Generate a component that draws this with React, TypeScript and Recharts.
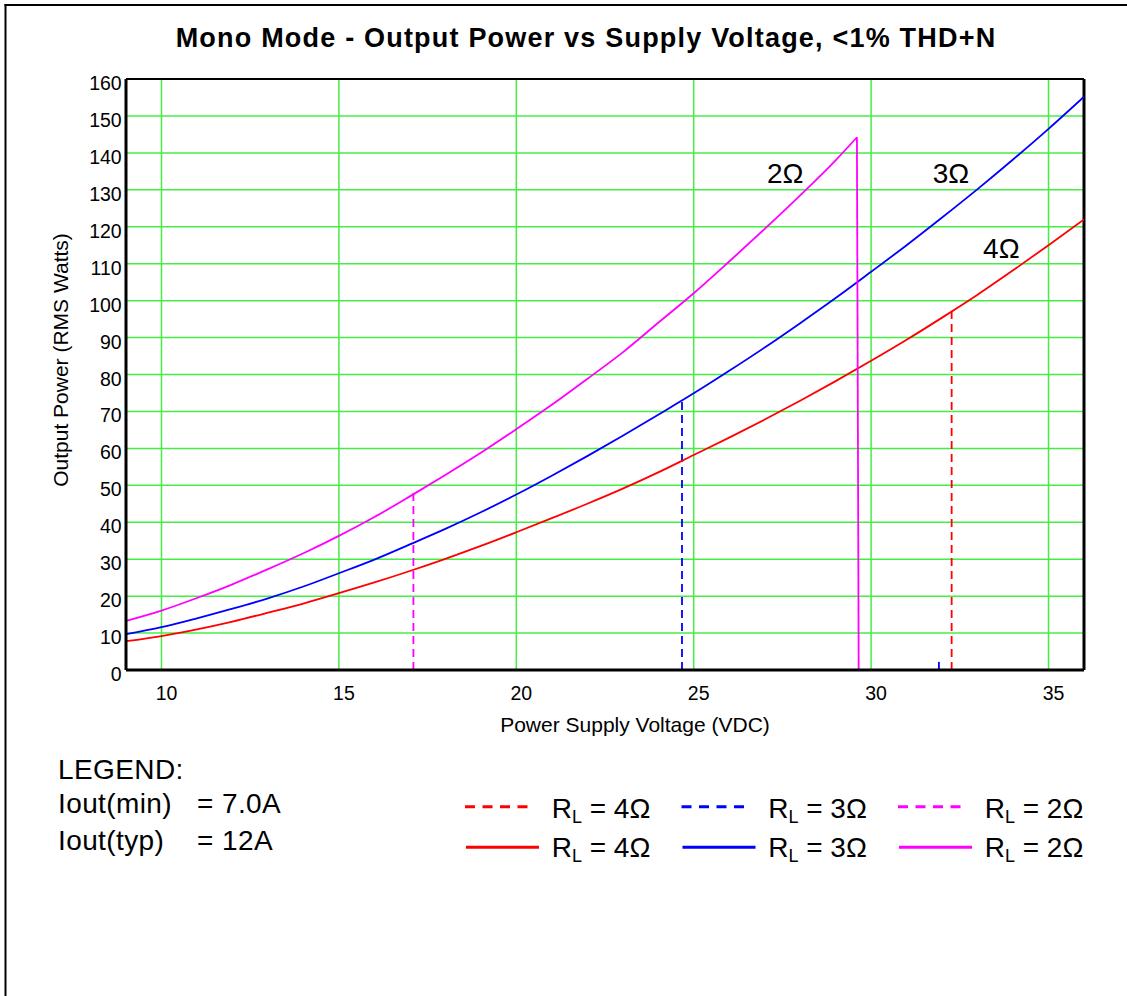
import React from 'react';
import { LineChart, Line, XAxis, YAxis, CartesianGrid, ReferenceLine, ReferenceDot } from 'recharts';

// supply voltage (VDC)
const voltage = [9, 10, 11, 12, 13, 14, 15, 16, 17, 18, 19, 20, 21, 22, 23, 24, 25, 26, 27, 28, 29, 30, 31, 32, 33, 34, 35, 36];
// output power (RMS W) per load
const power4Ohm = [7.8, 9.2, 11.0, 13.1, 15.5, 18.0, 20.8, 23.7, 26.8, 30.1, 33.6, 37.3, 41.1, 45.0, 49.1, 53.5, 58.2, 62.9, 67.8, 72.9, 78.2, 83.7, 89.4, 95.4, 101.6, 108.2, 115.0, 122.0];
const power3Ohm = [9.7, 11.6, 14.0, 16.6, 19.4, 22.6, 26.2, 29.9, 34.0, 38.2, 42.7, 47.5, 52.6, 57.9, 63.4, 69.1, 74.9, 81.0, 87.3, 93.9, 100.7, 107.8, 115.0, 122.5, 130.2, 138.2, 146.5, 155.2];
const voltage2Ohm = [9, 10, 11, 12, 13, 14, 15, 16, 17, 18, 19, 20, 21, 22, 23, 24, 25, 26, 27, 28, 29, 29.6];
const power2Ohm = [13.3, 16.1, 19.5, 23.2, 27.3, 31.6, 36.3, 41.4, 47.0, 52.8, 58.8, 65.2, 71.8, 78.8, 86.0, 94.0, 102.0, 110.6, 119.4, 128.5, 138.0, 144.2];
// 2 ohm curve falls off at the current limit
const dropVoltage = [29.6, 29.65];
const dropPower = [144.2, 0];

// Iout(min) limits, drawn dashed: 4, 3, 2 ohm
const loads = ['4Ω', '3Ω', '2Ω'];
const loadColors = ['#ff0000', '#0000ff', '#ff00ff'];
const limitVoltage = [32.27, 24.67, 17.1];
const limitPower = [97, 73, 48];

// small blue mark near the axis
const blipVoltage = [31.91, 31.91];
const blipPower = [0, 2.2];

// curve labels
const curveLabelVoltage = [33.67, 32.25, 27.58];
const curveLabelPower = [114.3, 134.6, 134.6];

const xTicks = [10, 15, 20, 25, 30, 35];
const yTicks = [0, 10, 20, 30, 40, 50, 60, 70, 80, 90, 100, 110, 120, 130, 140, 150, 160];

const legendNotes = [
  { name: 'Iout(min)', value: '= 7.0A' },
  { name: 'Iout(typ)', value: '= 12A' },
];

const FONT = '"Liberation Sans", Arial, Helvetica, sans-serif';

const toPoints = (xs: number[], ys: number[]) => xs.map((v, i) => ({ v, p: ys[i] }));

const solidSeries = [toPoints(voltage, power4Ohm), toPoints(voltage, power3Ohm), toPoints(voltage2Ohm, power2Ohm)];
const dashedSeries = limitVoltage.map((v, i) => toPoints([v, v], [0, limitPower[i]]));

const XTick = ({ x, y, payload }: any) => (
  <text x={x + 5} y={y + 30} textAnchor="middle" fontSize={19.5} fontFamily={FONT} fill="#000">
    {payload.value}
  </text>
);

const YTick = ({ x, y, payload }: any) => (
  <text x={x - 4.3} y={y + 11} textAnchor="end" fontSize={19.5} fontFamily={FONT} fill="#000">
    {payload.value}
  </text>
);

export default function App() {
  return (
    <div style={{ position: 'relative', width: 1127, height: 996, overflow: 'hidden', background: '#fff' }}>
      <style>{'html, body { margin: 0; padding: 0; overflow: hidden; }'}</style>
      <div style={{ position: 'absolute', left: 0, top: 0 }}>
        <LineChart width={1127} height={996} margin={{ top: 79, right: 43, bottom: 286, left: 66 }}>
          <CartesianGrid stroke="#44ee44" strokeWidth={1.5} />
          <XAxis
            type="number"
            dataKey="v"
            domain={[9, 36]}
            ticks={xTicks}
            interval={0}
            allowDataOverflow
            height={40}
            tickSize={0}
            tickMargin={0}
            tickLine={false}
            axisLine={{ stroke: '#000', strokeWidth: 3 }}
            tick={<XTick />}
          />
          <YAxis
            type="number"
            dataKey="p"
            domain={[0, 160]}
            ticks={yTicks}
            interval={0}
            allowDataOverflow
            width={60}
            tickSize={0}
            tickMargin={0}
            tickLine={false}
            axisLine={{ stroke: '#000', strokeWidth: 3 }}
            tick={<YTick />}
          />
          <ReferenceLine y={160} stroke="#000" strokeWidth={2} />
          <ReferenceLine x={36} stroke="#000" strokeWidth={3} />
          {dashedSeries.map((d, i) => (
            <Line
              key={`lim-${i}`}
              data={d}
              dataKey="p"
              stroke={loadColors[i]}
              strokeWidth={1.8}
              strokeDasharray="8 5"
              dot={false}
              type="linear"
              isAnimationActive={false}
            />
          ))}
          <Line
            data={toPoints(blipVoltage, blipPower)}
            dataKey="p"
            stroke={loadColors[1]}
            strokeWidth={1.8}
            dot={false}
            type="linear"
            isAnimationActive={false}
          />
          {solidSeries.map((d, i) => (
            <Line
              key={`pw-${i}`}
              data={d}
              dataKey="p"
              stroke={loadColors[i]}
              strokeWidth={1.8}
              dot={false}
              type="monotone"
              isAnimationActive={false}
            />
          ))}
          <Line
            data={toPoints(dropVoltage, dropPower)}
            dataKey="p"
            stroke={loadColors[2]}
            strokeWidth={1.8}
            dot={false}
            type="linear"
            isAnimationActive={false}
          />
          {loads.map((l, i) => (
            <ReferenceDot
              key={`lbl-${i}`}
              x={curveLabelVoltage[i]}
              y={curveLabelPower[i]}
              r={0}
              fill="none"
              stroke="none"
              label={{ value: l, position: 'center', fontSize: 28, fontFamily: FONT, fill: '#000' }}
            />
          ))}
        </LineChart>
      </div>
      <svg
        width={1127}
        height={996}
        style={{ position: 'absolute', left: 0, top: 0, pointerEvents: 'none' }}
        fontFamily={FONT}
      >
        {/* outer frame, runs off the right and bottom edges */}
        <line x1={5.5} y1={4} x2={5.5} y2={996} stroke="#000" strokeWidth={2} />
        <line x1={4.5} y1={5} x2={1127} y2={5} stroke="#000" strokeWidth={2} />
        <text x={586} y={46.7} textAnchor="middle" fontSize={27} fontWeight="bold" letterSpacing={1.2}>
          Mono Mode - Output Power vs Supply Voltage, &lt;1% THD+N
        </text>
        <text x={635} y={731.8} textAnchor="middle" fontSize={21}>
          Power Supply Voltage (VDC)
        </text>
        <text transform="translate(68, 360) rotate(-90)" textAnchor="middle" fontSize={21}>
          Output Power (RMS Watts)
        </text>

        <text x={58} y={779} fontSize={28} letterSpacing={0.4}>LEGEND:</text>
        {legendNotes.map((n, i) => (
          <g key={n.name}>
            <text x={58} y={813.3 + i * 36.7} fontSize={28} letterSpacing={0.4}>{n.name}</text>
            <text x={197} y={813.3 + i * 36.7} fontSize={28} letterSpacing={0.4}>{n.value}</text>
          </g>
        ))}

        {loads.map((l, i) => {
          const gx = 465 + i * 216.5;
          return (
            <g key={`leg-${l}`}>
              <line x1={gx} x2={gx + 65} y1={806.7} y2={806.7} stroke={loadColors[i]} strokeWidth={3} strokeDasharray="10 7.5" />
              <text x={gx + 86.7} y={818.3} fontSize={28}>
                R<tspan fontSize={18} dy={5}>L</tspan>
                <tspan dy={-5}> = {l}</tspan>
              </text>
              <line x1={gx + 1} x2={gx + 74} y1={847.3} y2={847.3} stroke={loadColors[i]} strokeWidth={3} />
              <text x={gx + 86.7} y={856.7} fontSize={28}>
                R<tspan fontSize={18} dy={5}>L</tspan>
                <tspan dy={-5}> = {l}</tspan>
              </text>
            </g>
          );
        })}
      </svg>
    </div>
  );
}
